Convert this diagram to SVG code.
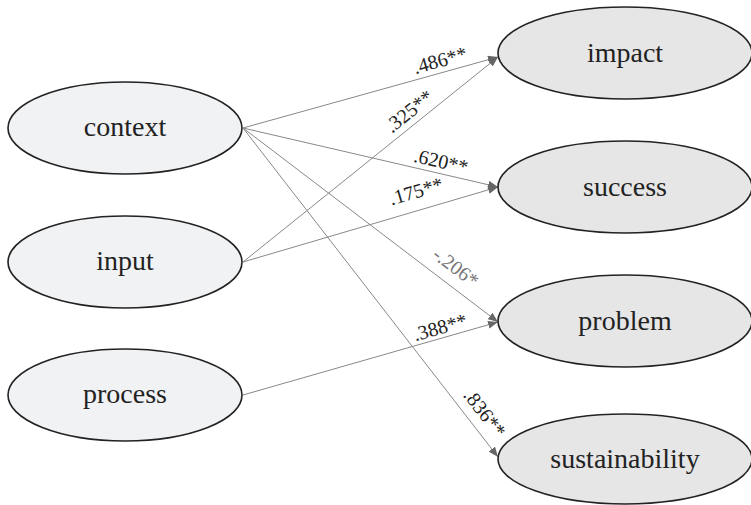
<svg xmlns="http://www.w3.org/2000/svg" width="751" height="505" viewBox="0 0 751 505">
<defs>
<marker id="ah" viewBox="0 0 10 8" refX="10" refY="4" markerWidth="10" markerHeight="8" markerUnits="userSpaceOnUse" orient="auto">
<path d="M0,0 L10,4 L0,8 z" fill="#666"/>
</marker>
</defs>
<style>
.src{fill:#f1f2f4;stroke:#222;stroke-width:1.6}
.dst{fill:#e6e6e6;stroke:#222;stroke-width:1.6}
.nt{font-family:"Liberation Serif","Times New Roman",serif;font-size:28px;fill:#222;text-anchor:middle}
.el{fill:none;stroke:#888;stroke-width:1;marker-end:url(#ah)}
.lb{font-family:"Liberation Serif","Times New Roman",serif;font-size:20px;fill:#222;text-anchor:middle;dominant-baseline:central}
.lg{fill:#777}
</style>
<rect width="751" height="505" fill="#fff"/>
<g id="connectors">
<line class="el" x1="243" y1="128" x2="498" y2="57"/>
<line class="el" x1="243" y1="128" x2="498" y2="187"/>
<line class="el" x1="243" y1="128" x2="498" y2="322"/>
<line class="el" x1="243" y1="128" x2="498" y2="457"/>
<line class="el" x1="243" y1="262" x2="498" y2="57"/>
<line class="el" x1="243" y1="262" x2="498" y2="187"/>
<line class="el" x1="243" y1="395" x2="498" y2="322"/>
<text class="lb" x="440" y="60" transform="rotate(-15.6 440 60)">.486**</text>
<text class="lb" x="409" y="111" transform="rotate(-38.8 409 111)">.325**</text>
<text class="lb" x="441" y="161" transform="rotate(13 441 161)">.620**</text>
<text class="lb" x="416" y="191" transform="rotate(-16.4 416 191)">.175**</text>
<text class="lb lg" x="456" y="267" transform="rotate(37.3 456 267)">-.206*</text>
<text class="lb" x="440" y="327" transform="rotate(-16 440 327)">.388**</text>
<text class="lb" x="485" y="413" transform="rotate(52.2 485 413)">.836**</text>
</g>
<g id="context"><ellipse class="src" cx="125" cy="128" rx="117" ry="46"/><text class="nt" x="125" y="136">context</text></g>
<g id="input"><ellipse class="src" cx="125" cy="262" rx="117" ry="46"/><text class="nt" x="125" y="270">input</text></g>
<g id="process"><ellipse class="src" cx="125" cy="395" rx="117" ry="46"/><text class="nt" x="125" y="403">process</text></g>
<g id="impact"><ellipse class="dst" cx="625" cy="53" rx="127" ry="46"/><text class="nt" x="625" y="62">impact</text></g>
<g id="success"><ellipse class="dst" cx="625" cy="187" rx="127" ry="46"/><text class="nt" x="625" y="196">success</text></g>
<g id="problem"><ellipse class="dst" cx="625" cy="321" rx="127" ry="46"/><text class="nt" x="625" y="330">problem</text></g>
<g id="sustainability"><ellipse class="dst" cx="625" cy="459" rx="127" ry="45"/><text class="nt" x="625" y="468">sustainability</text></g>
</svg>
